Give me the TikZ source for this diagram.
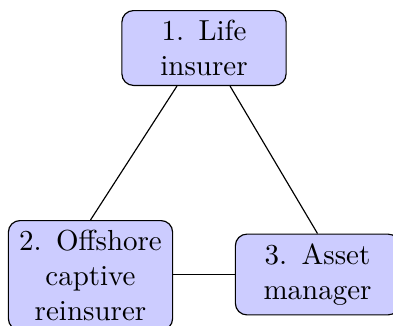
\documentclass[tikz,border=0pt]{standalone}
\usetikzlibrary{calc}
\begin{document}
\begin{tikzpicture}[x=0.345pt,y=-0.345pt,
  party/.style={draw=black, fill=blue!20, rounded corners=4pt, text width=50pt, align=center, inner sep=3.33pt, line width=0.4pt}]
\useasboundingbox (0,0) rectangle (393,326);
\node[party] (n1) at (204,48) {1. Life insurer};
\node[party, anchor=north] (n2) at (90.5,220) {2. Offshore captive reinsurer};
\node[party] (n3) at (317.5,274.5) {3. Asset manager};
\draw ($(n1.south)+(-27,0)$) -- (n2.north);
\draw ($(n1.south)+(26,0)$) -- (n3.north);
\draw (n3.west) -- (n2.east |- n3.west);
\end{tikzpicture}
\end{document}
